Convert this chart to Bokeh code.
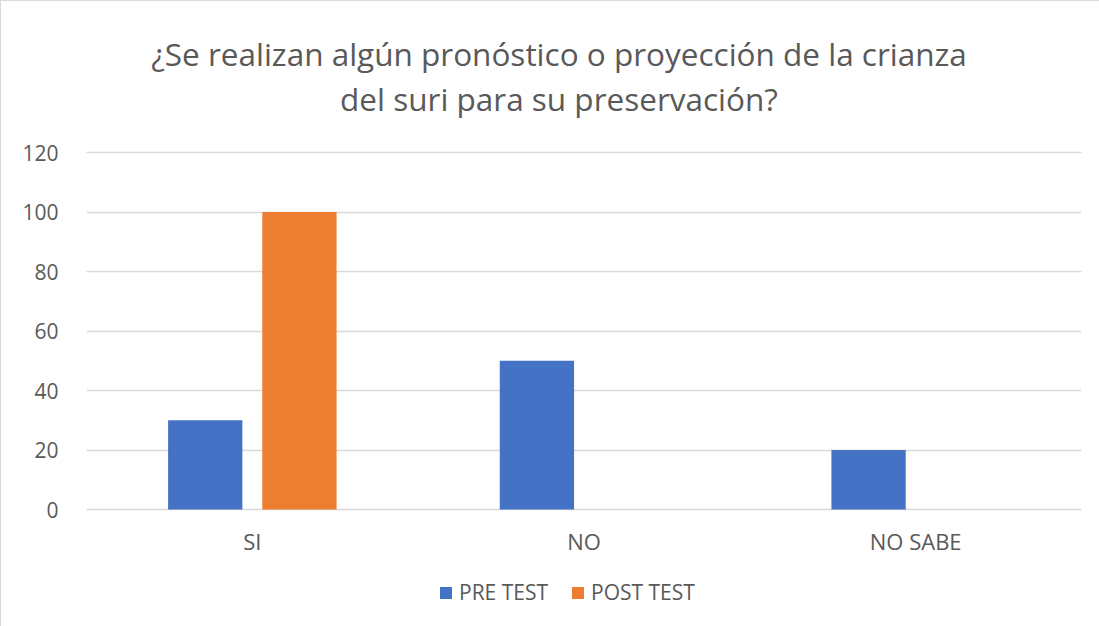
from bokeh.plotting import figure
from bokeh.models import FactorRange, Range1d, ColumnDataSource, Legend, LegendItem, FixedTicker, Label
from bokeh.core.properties import value
from bokeh.transform import dodge
from bokeh.embed import file_html
from bokeh.resources import INLINE

categories = ["SI", "NO", "NO SABE"]
pre_test = [30, 50, 20]
post_test = [100, 0, 0]
series_names = ["PRE TEST", "POST TEST"]
y_ticks = [0, 20, 40, 60, 80, 100, 120]
title_lines = ["¿Se realizan algún pronóstico o proyección de la crianza",
               "del suri para su preservación?"]

FONT = "Open Sans"
TXT = "#595959"
GRID = "#d9d9d9"

# pixel layout: value 0 sits at y=508 px, 120 at y=151 px, canvas height 626
PX_PER_UNIT = (508 - 151) / 120.0
y_lo = -(626 - 508) / PX_PER_UNIT
y_hi = 120 + 151 / PX_PER_UNIT

src = ColumnDataSource(dict(cat=categories, pre=pre_test, post=post_test,
                            base=[0] * len(categories)))

p = figure(width=1099, height=626, output_backend="svg", toolbar_location=None,
           x_range=FactorRange(factors=categories, range_padding=0),
           y_range=Range1d(y_lo, y_hi),
           min_border_left=85, min_border_right=19, min_border_top=0, min_border_bottom=0)
p.styles = {"border-left": "1px solid #d9d9d9", "border-top": "1px solid #d9d9d9",
            "box-sizing": "border-box"}
p.title.visible = False
p.xaxis.visible = False

r1 = p.vbar(x=dodge("cat", -0.142, range=p.x_range), top="pre", width=0.224, source=src,
            fill_color="#4472C4", line_color=None)
r2 = p.vbar(x=dodge("cat", 0.142, range=p.x_range), top="post", width=0.224, source=src,
            fill_color="#ED7D31", line_color=None)

# category labels under the baseline
p.text(x="cat", y="base", text="cat", source=src, y_offset=31,
       text_align="center", text_baseline="middle",
       text_font=value(FONT), text_font_size="22px", text_color=TXT)

# title (two centred lines)
mid = len(categories) / 2.0
for line, yy in zip(title_lines, [120 + (151 - 52) / PX_PER_UNIT, 120 + (151 - 97) / PX_PER_UNIT]):
    p.add_layout(Label(x=mid, y=yy, x_offset=-25, text=line, text_align="center",
                       text_baseline="middle", text_font=FONT, text_font_size="31.5px",
                       text_color=TXT))

p.outline_line_color = None
p.xgrid.grid_line_color = None
p.ygrid.grid_line_color = GRID
p.ygrid.grid_line_width = 1.3

p.yaxis.ticker = FixedTicker(ticks=y_ticks)
p.yaxis.axis_line_color = None
p.yaxis.major_tick_line_color = None
p.yaxis.minor_tick_line_color = None
p.yaxis.major_label_standoff = 22
p.yaxis.major_label_text_font = FONT
p.yaxis.major_label_text_font_size = "21px"
p.yaxis.major_label_text_color = TXT

legend = Legend(items=[LegendItem(label=series_names[0], renderers=[r1]),
                       LegendItem(label=series_names[1], renderers=[r2])],
                orientation="horizontal", location=(352, 21),
                label_text_font=FONT, label_text_font_size="21px", label_text_color=TXT,
                glyph_width=15, glyph_height=15, spacing=22, label_standoff=6,
                border_line_color=None, background_fill_alpha=0, padding=0, margin=0)
p.add_layout(legend, "center")

open("out.html", "w").write(file_html(p, INLINE))
